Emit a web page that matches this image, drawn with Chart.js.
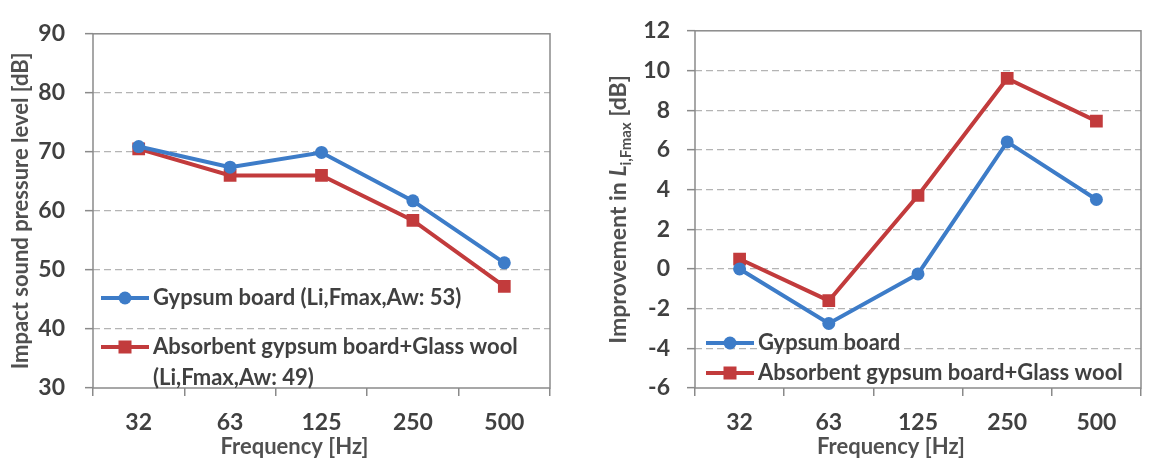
<!DOCTYPE html>
<html>
<head>
<meta charset="utf-8">
<script src="https://cdn.jsdelivr.net/npm/chart.js@4/dist/chart.umd.min.js"></script>
<style>
  body { margin: 0; background: #fff; }
  #wrap { position: relative; width: 1150px; height: 461px; }
  #leftChart { position: absolute; left: 0; top: 0; }
  #rightChart { position: absolute; left: 590px; top: 0; }
</style>
</head>
<body>
<div id="wrap">
  <canvas id="leftChart" width="560" height="461"></canvas>
  <canvas id="rightChart" width="560" height="461"></canvas>
</div>
<script>
// Frequencies along the x-axis
var freqs = ["32", "63", "125", "250", "500"];
// Left panel: impact sound pressure level
var splGypsum = [70.9, 67.4, 69.9, 61.7, 51.2];
var splAbsorbent = [70.5, 66.0, 66.0, 58.4, 47.2];
// Right panel: improvement in Li,Fmax
var impGypsum = [0.0, -2.75, -0.25, 6.4, 3.5];
var impAbsorbent = [0.5, -1.6, 3.7, 9.6, 7.45];
// Legend texts
var leftLegend = [["Gypsum board (Li,Fmax,Aw: 53)"], ["Absorbent gypsum board+Glass wool", "(Li,Fmax,Aw: 49)"]];
var rightLegend = [["Gypsum board"], ["Absorbent gypsum board+Glass wool"]];
var xTitle = "Frequency [Hz]";

var BLUE = "#3d7cc8";
var RED = "#c23b3c";
var FONT = "Lato, 'Open Sans', sans-serif";
var TXT = "#404040";
var TITLE = "#505050";
var AXIS = "#8a8a8a";

// box round the plot area
var boxPlugin = {
  id: "box",
  beforeDatasetsDraw: function (chart) {
    var a = chart.chartArea, ctx = chart.ctx;
    ctx.save();
    ctx.strokeStyle = AXIS;
    ctx.lineWidth = 1.5;
    ctx.strokeRect(a.left, a.top, a.right - a.left, a.bottom - a.top);
    ctx.restore();
  }
};

// x title sits a bit left of the centre, as in the source figure
var xTitlePlugin = {
  id: "xTitle",
  afterDraw: function (chart) {
    var ctx = chart.ctx, a = chart.chartArea;
    ctx.save();
    ctx.font = "bold 22px " + FONT;
    ctx.fillStyle = TITLE;
    ctx.textAlign = "center";
    ctx.textBaseline = "middle";
    ctx.fillText(xTitle, (a.left + a.right) / 2 - 27, 447);
    ctx.restore();
  }
};

// legend drawn inside the plot area
function legendPlugin(rows, opts) {
  return {
    id: "inLegend",
    afterDraw: function (chart) {
      var ctx = chart.ctx, a = chart.chartArea;
      ctx.save();
      ctx.font = "bold 22px " + FONT;
      ctx.textBaseline = "middle";
      rows.forEach(function (lines, i) {
        var ds = chart.data.datasets[i];
        var y = opts.ys[i];
        var x0 = a.left + opts.x0;
        ctx.strokeStyle = ds.borderColor;
        ctx.lineWidth = 4;
        ctx.beginPath();
        ctx.moveTo(x0, y);
        ctx.lineTo(x0 + 48, y);
        ctx.stroke();
        ctx.fillStyle = ds.borderColor;
        if (ds.pointStyle === "rect") {
          ctx.fillRect(x0 + 24 - 6.5, y - 6.5, 13, 13);
        } else {
          ctx.beginPath();
          ctx.arc(x0 + 24, y, 6.5, 0, Math.PI * 2);
          ctx.fill();
        }
        ctx.fillStyle = TXT;
        lines.forEach(function (t, j) {
          ctx.fillText(t, x0 + 52, y + j * 31);
        });
      });
      ctx.restore();
    }
  };
}

// y title with italic L and subscript
var subTitlePlugin = {
  id: "subTitle",
  afterDraw: function (chart) {
    var ctx = chart.ctx, a = chart.chartArea;
    var parts = [
      { t: "Improvement in ", f: "bold 23px " + FONT, dy: 0 },
      { t: "L", f: "italic bold 23px " + FONT, dy: 0 },
      { t: "i,Fmax", f: "bold 15px " + FONT, dy: 7 },
      { t: " [dB]", f: "bold 23px " + FONT, dy: 0 }
    ];
    ctx.save();
    var total = 0;
    parts.forEach(function (p) { ctx.font = p.f; total += ctx.measureText(p.t).width; });
    ctx.translate(29, (a.top + a.bottom) / 2);
    ctx.rotate(-Math.PI / 2);
    ctx.fillStyle = TITLE;
    ctx.textBaseline = "middle";
    var x = -total / 2;
    parts.forEach(function (p) {
      ctx.font = p.f;
      ctx.fillText(p.t, x, p.dy);
      x += ctx.measureText(p.t).width;
    });
    ctx.restore();
  }
};

function gridColor(c) {
  var n = c.scale.ticks.length;
  return (c.index === 0 || c.index === n - 1) ? "rgba(0,0,0,0)" : "#b4b4b4";
}

function makeOptions(cfg) {
  return {
    responsive: false,
    animation: false,
    layout: { padding: { top: cfg.top, right: cfg.right, left: 0, bottom: 0 } },
    plugins: { legend: { display: false }, tooltip: { enabled: false } },
    scales: {
      x: {
        offset: true,
        grid: { drawOnChartArea: false, offset: true, tickLength: 8, tickColor: AXIS, lineWidth: 1.5 },
        border: { display: false },
        ticks: { color: TXT, font: { family: FONT, size: 23, weight: "bold" }, padding: 13 },
        title: { display: false },
        afterFit: function (s) { s.height = 73; }
      },
      y: {
        min: cfg.min, max: cfg.max,
        grid: { color: gridColor, lineWidth: 1.3, tickLength: 8, tickColor: AXIS, tickBorderDash: [], tickWidth: 1.5 },
        border: { display: false, dash: [7, 4] },
        ticks: { stepSize: cfg.step, color: TXT, font: { family: FONT, size: 23, weight: "bold" }, padding: cfg.tickPad },
        title: cfg.title,
        afterFit: function (s) { s.width = cfg.yWidth; }
      }
    }
  };
}

function series(label, data, color, style) {
  return {
    label: label, data: data,
    borderColor: color, backgroundColor: color,
    borderWidth: 4, pointStyle: style,
    pointRadius: style === "rect" ? 9 : 6.5,
    pointBorderWidth: 0, tension: 0
  };
}

new Chart(document.getElementById("leftChart"), {
  type: "line",
  data: {
    labels: freqs,
    datasets: [
      series("Gypsum board", splGypsum, BLUE, "circle"),
      series("Absorbent gypsum board+Glass wool", splAbsorbent, RED, "rect")
    ]
  },
  options: makeOptions({
    top: 15, right: 10, min: 30, max: 90, step: 10, tickPad: 20, yWidth: 93,
    title: { display: true, text: "Impact sound pressure level [dB]", color: TITLE, font: { family: FONT, size: 22, weight: "bold" }, padding: { top: 8, bottom: 0 } }
  }),
  plugins: [boxPlugin, xTitlePlugin, legendPlugin(leftLegend, { x0: 8, ys: [298, 347] })]
});

new Chart(document.getElementById("rightChart"), {
  type: "line",
  data: {
    labels: freqs,
    datasets: [
      series("Gypsum board", impGypsum, BLUE, "circle"),
      series("Absorbent gypsum board+Glass wool", impAbsorbent, RED, "rect")
    ]
  },
  options: makeOptions({
    top: 16, right: 2, min: -6, max: 12, step: 2, tickPad: 17, yWidth: 105,
    title: { display: false }
  }),
  plugins: [boxPlugin, xTitlePlugin, legendPlugin(rightLegend, { x0: 11, ys: [343, 373] }), subTitlePlugin]
});
</script>
</body>
</html>
